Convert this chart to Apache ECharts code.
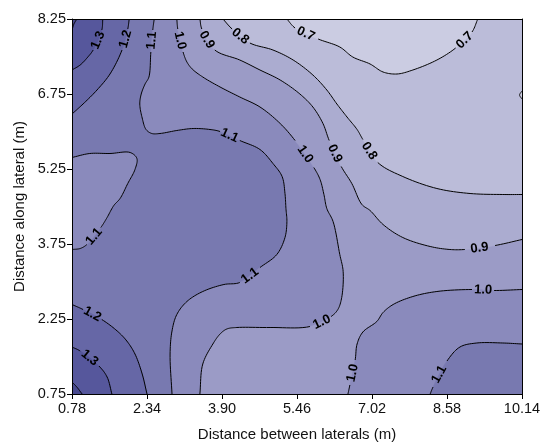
<!DOCTYPE html>
<html><head><meta charset="utf-8">
<script src="https://cdn.jsdelivr.net/npm/echarts@6/dist/echarts.min.js"></script>
<style>html,body{margin:0;padding:0;background:#fff}#c{width:552px;height:447px}</style>
</head><body><div id="c"></div>
<script>
// ---- axis ticks ----
const xTicks = [0.78, 2.34, 3.90, 5.46, 7.02, 8.58, 10.14];
const yTicks = [0.75, 2.25, 3.75, 5.25, 6.75, 8.25];
const xRange = [0.78, 10.14];
const yRange = [0.75, 8.25];

// ---- contour lines: [x, y] in data units, null = label gap ----
const c14top = [[0.88,8.25],[0.82,8.15],[0.78,8.03]];
const c13top = [[1.42,8.25],[1.40,8.03],null,[1.22,7.63],[1.11,7.49],[0.95,7.33],[0.78,7.23]];
const c12top = [[1.97,8.25],[1.94,8.05],null,[1.82,7.63],[1.57,7.15],[1.30,6.83],[1.01,6.55],[0.78,6.35]];
const c11main = [[2.49,8.25],[2.46,8.03],null,[2.42,7.59],[2.38,7.09],[2.30,6.95],[2.22,6.75],[2.19,6.55],[2.24,6.27],[2.32,6.04],[2.44,5.96],[2.61,5.96],[2.96,6.02],[3.30,6.06],[3.65,6.04],[3.86,6.00],null,[4.27,5.82],[4.69,5.64],[4.96,5.36],[5.15,5.10],[5.21,4.76],[5.23,4.46],[5.25,4.20],[5.21,3.88],[5.04,3.54],[4.69,3.28],null,[4.27,2.98],[3.94,2.94],[3.50,2.80],[3.17,2.60],[2.96,2.34],[2.86,2.01],[2.82,1.55],[2.86,0.75]];
const c11left = [[0.78,5.48],[1.15,5.56],[1.57,5.56],[1.99,5.58],[2.13,5.46],[2.09,5.24],[1.94,4.96],[1.78,4.66],[1.65,4.52],[1.51,4.28],[1.38,4.08],null,[1.09,3.74],[0.95,3.66],[0.78,3.64]];
const c12bot = [[0.78,2.54],[1.01,2.44],null,[1.40,2.24],[1.72,2.01],[1.92,1.81],[2.09,1.55],[2.24,1.15],[2.34,0.75]];
const c13bot = [[0.78,1.69],[0.95,1.61],null,[1.34,1.31],[1.51,1.09],[1.61,0.75]];
const c14bot = [[0.78,0.99],[0.88,0.89],[0.99,0.75]];
const c10main = [[2.96,8.25],[2.98,8.05],null,[3.09,7.59],[3.17,7.39],[3.28,7.25],[3.50,7.09],[3.86,6.89],[4.27,6.69],[4.69,6.49],[5.11,6.16],[5.42,5.82],null,[5.81,5.28],[5.94,5.04],[6.02,4.74],[6.08,4.46],[6.21,4.20],[6.35,3.54],[6.42,3.20],[6.39,2.68],[6.31,2.44],[6.17,2.30],null,[5.73,2.10],[4.90,2.08],[4.21,2.08],[4.00,2.05],[3.86,1.95],[3.71,1.75],[3.50,1.35],[3.44,0.75]];
const c09 = [[3.44,8.25],[3.48,8.05],null,[3.75,7.63],[4.27,7.43],[4.69,7.23],[5.11,7.03],[5.52,6.75],[5.79,6.49],[6.00,6.16],[6.13,5.82],null,[6.38,5.30],[6.60,4.96],[6.81,4.54],[6.98,4.42],[7.25,4.14],[7.66,3.88],[8.23,3.70],[8.64,3.64],[8.95,3.64],null,[9.58,3.72],[10.14,3.84]];
const c08 = [[3.92,8.25],[4.11,8.05],null,[4.48,7.77],[4.96,7.63],[5.38,7.43],[5.79,7.13],[6.08,6.83],[6.29,6.55],[6.50,6.29],[6.71,6.04],[6.83,5.84],null,[7.14,5.38],[7.66,5.10],[8.37,4.86],[9.06,4.76],[9.74,4.74],[10.14,4.74]];
const c07 = [[5.25,8.25],[5.42,8.07],null,[5.90,7.85],[6.35,7.69],[6.62,7.49],[6.98,7.35],[7.25,7.19],[7.54,7.15],[7.87,7.23],[8.37,7.43],[8.76,7.67],null,[9.10,7.99],[9.22,8.25]];
const c07right = [[10.14,6.81],[10.09,6.73],[10.14,6.65]];
const c10right = [[10.14,2.84],[9.56,2.82],null,[9.10,2.84],[8.37,2.80],[7.87,2.70],[7.46,2.54],[7.25,2.38],[7.12,2.20],[6.83,1.99],[6.71,1.75],[6.67,1.43],null,[6.56,0.93],[6.52,0.75]];
const c11right = [[10.14,1.75],[9.74,1.77],[9.20,1.77],[8.85,1.69],[8.58,1.41],null,[8.29,0.89],[8.23,0.75]];

// contour level of each line
const lines = [
  {pts:c14top, level:'1.4'}, {pts:c13top, level:'1.3'}, {pts:c12top, level:'1.2'},
  {pts:c11main, level:'1.1'}, {pts:c11left, level:'1.1'},
  {pts:c12bot, level:'1.2'}, {pts:c13bot, level:'1.3'}, {pts:c14bot, level:'1.4'},
  {pts:c10main, level:'1.0'}, {pts:c09, level:'0.9'}, {pts:c08, level:'0.8'},
  {pts:c07, level:'0.7'}, {pts:c07right, level:'0.7'},
  {pts:c10right, level:'1.0'}, {pts:c11right, level:'1.1'}
];

// band colours (low -> high)
const bandColors = {
  'lt0.7':'#cbcce2','0.7':'#bbbcd9','0.8':'#abacd0','0.9':'#9b9bc6',
  '1.0':'#8a8abc','1.1':'#7879b0','1.2':'#6667a6','1.3':'#56579c','1.4':'#48498f'
};
// filled regions in paint order: contour + closing corner points
const fills = [
  {pts:null, band:'1.1'},
  {pts:c11main, close:[[10.14,0.75],[10.14,8.25]], band:'1.0'},
  {pts:c11left, close:[], band:'1.0'},
  {pts:c10main, close:[[10.14,0.75],[10.14,8.25]], band:'0.9'},
  {pts:c10right, close:[[10.14,0.75]], band:'1.0'},
  {pts:c11right, close:[[10.14,0.75]], band:'1.1'},
  {pts:c09, close:[[10.14,8.25]], band:'0.8'},
  {pts:c08, close:[[10.14,8.25]], band:'0.7'},
  {pts:c07, close:[], band:'lt0.7'},
  {pts:c07right, close:[], band:'lt0.7'},
  {pts:c12top, close:[[0.78,8.25]], band:'1.2'},
  {pts:c13top, close:[[0.78,8.25]], band:'1.3'},
  {pts:c14top, close:[[0.78,8.25]], band:'1.4'},
  {pts:c12bot, close:[[0.78,0.75]], band:'1.2'},
  {pts:c13bot, close:[[0.78,0.75]], band:'1.3'},
  {pts:c14bot, close:[[0.78,0.75]], band:'1.4'}
];

function crSeg(p0,p1,p2,p3,N){
  const d=(a,b)=>Math.max(Math.pow(Math.hypot(b[0]-a[0],b[1]-a[1]),0.5),1e-4);
  const t0=0,t1=t0+d(p0,p1),t2=t1+d(p1,p2),t3=t2+d(p2,p3);
  const out=[];
  for(let k=0;k<=N;k++){
    const t=t1+(t2-t1)*k/N;
    const L=(a,b,ta,tb)=>[(tb-t)/(tb-ta)*a[0]+(t-ta)/(tb-ta)*b[0],(tb-t)/(tb-ta)*a[1]+(t-ta)/(tb-ta)*b[1]];
    const A1=L(p0,p1,t0,t1),A2=L(p1,p2,t1,t2),A3=L(p2,p3,t2,t3);
    const B1=L(A1,A2,t0,t2),B2=L(A2,A3,t1,t3);
    out.push(L(B1,B2,t1,t2));
  }
  return out;
}
function build(raw, api){
  const px=[], gaps=new Set();
  raw.forEach(p=>{ if(p===null){gaps.add(px.length-1);} else px.push(api.coord(p)); });
  const n=px.length, segs=[];
  for(let i=0;i<n-1;i++){
    const p1=px[i],p2=px[i+1];
    const p0=i>0?px[i-1]:[2*p1[0]-p2[0],2*p1[1]-p2[1]];
    const p3=i+2<n?px[i+2]:[2*p2[0]-p1[0],2*p2[1]-p1[1]];
    segs.push(crSeg(p0,p1,p2,p3,10));
  }
  return {px,segs,gaps};
}

const chart = echarts.init(document.getElementById('c'));
const FONT = '"Liberation Sans", Arial, sans-serif';

function renderItem(params, api){
  const children=[];
  fills.forEach(f=>{
    let poly;
    if(!f.pts){
      poly=[[xRange[0],yRange[0]],[xRange[1],yRange[0]],[xRange[1],yRange[1]],[xRange[0],yRange[1]]].map(p=>api.coord(p));
    } else {
      const b=build(f.pts,api);
      poly=[];
      b.segs.forEach(s=>s.forEach(p=>poly.push(p)));
      f.close.forEach(p=>poly.push(api.coord(p)));
    }
    children.push({type:'polygon',shape:{points:poly},style:{fill:bandColors[f.band],stroke:bandColors[f.band],lineWidth:0.6}});
  });
  const labels=[];
  lines.forEach(l=>{
    const b=build(l.pts,api);
    let cur=[];
    b.segs.forEach((s,i)=>{
      if(b.gaps.has(i)){
        if(cur.length) children.push({type:'polyline',shape:{points:cur},style:{stroke:'#000',lineWidth:1,fill:null}});
        cur=[];
        const a=b.px[i], c=b.px[i+1], m=s[Math.floor(s.length/2)];
        let ang=Math.atan2(-(c[1]-a[1]), c[0]-a[0]);
        if(ang>Math.PI/2) ang-=Math.PI; if(ang<-Math.PI/2) ang+=Math.PI;
        labels.push({type:'text',x:m[0],y:m[1],rotation:ang,style:{text:l.level,fill:'#000',fontSize:13,fontWeight:'bold',fontFamily:FONT,align:'center',verticalAlign:'middle'}});
      } else {
        if(cur.length) cur=cur.concat(s.slice(1)); else cur=s.slice();
      }
    });
    if(cur.length) children.push({type:'polyline',shape:{points:cur},style:{stroke:'#000',lineWidth:1,fill:null}});
  });
  return {type:'group',children:children.concat(labels)};
}

const axisCommon = {
  type:'value', splitLine:{show:false}
};
chart.setOption({
  animation:false,
  grid:{left:72,right:30,top:19,bottom:52,containLabel:false},
  xAxis:[
    Object.assign({}, axisCommon, {
      min:xRange[0], max:xRange[1], position:'bottom', z:10,
      axisLine:{show:true,onZero:false,lineStyle:{color:'#000',width:1}},
      axisTick:{show:true,customValues:xTicks,length:5,lineStyle:{color:'#000'}},
      axisLabel:{customValues:xTicks,formatter:v=>Number(v).toFixed(2),color:'#111',fontSize:14.5,fontFamily:FONT,margin:7},
      name:'Distance between laterals (m)', nameLocation:'middle', nameGap:33,
      nameTextStyle:{color:'#111',fontSize:15,fontFamily:FONT}
    }),
    Object.assign({}, axisCommon, {
      min:xRange[0], max:xRange[1], position:'top', z:10,
      axisLine:{show:true,onZero:false,lineStyle:{color:'#000',width:1}},
      axisTick:{show:false}, axisLabel:{show:false}
    })
  ],
  yAxis:[
    Object.assign({}, axisCommon, {
      min:yRange[0], max:yRange[1], position:'left', z:10,
      axisLine:{show:true,onZero:false,lineStyle:{color:'#000',width:1}},
      axisTick:{show:true,customValues:yTicks,length:5,lineStyle:{color:'#000'}},
      axisLabel:{customValues:yTicks,formatter:v=>Number(v).toFixed(2),color:'#111',fontSize:14.5,fontFamily:FONT,margin:6},
      name:'Distance along lateral (m)', nameLocation:'middle', nameGap:44, nameRotate:90,
      nameTextStyle:{color:'#111',fontSize:15,fontFamily:FONT}
    }),
    Object.assign({}, axisCommon, {
      min:yRange[0], max:yRange[1], position:'right', z:10,
      axisLine:{show:true,onZero:false,lineStyle:{color:'#000',width:1}},
      axisTick:{show:false}, axisLabel:{show:false}
    })
  ],
  series:[{
    type:'custom', xAxisIndex:0, yAxisIndex:0, clip:true,
    renderItem:renderItem, data:[[xRange[0],yRange[0]]], silent:true
  }]
});
</script></body></html>
